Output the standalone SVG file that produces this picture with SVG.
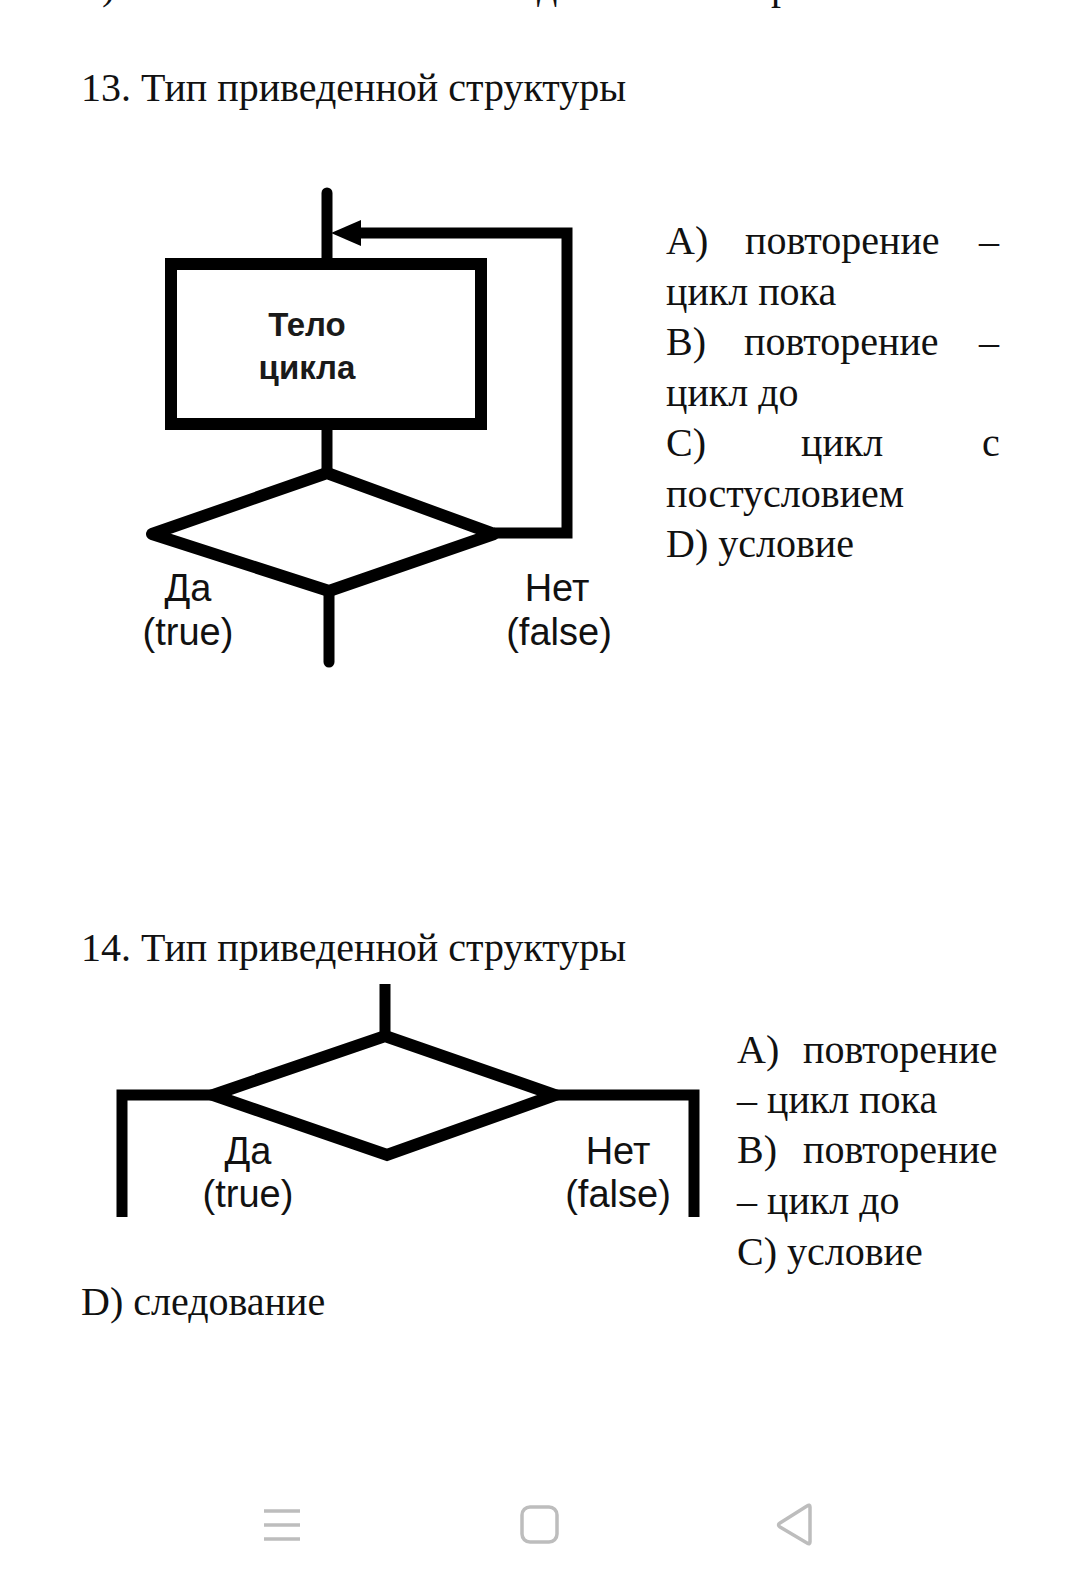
<svg xmlns="http://www.w3.org/2000/svg" width="1080" height="1592" viewBox="0 0 1080 1592">
<style>
.q{font-family:"Liberation Serif","Times New Roman",serif;font-size:40px;fill:#111}
.lab{font-family:"Liberation Sans",Arial,sans-serif;font-size:38px;fill:#111;text-anchor:middle}
.body{font-family:"Liberation Sans",Arial,sans-serif;font-size:33px;font-weight:bold;fill:#1a1a1a;text-anchor:middle}
.ln{fill:none;stroke:#000;stroke-width:11}
.shape{fill:#fff;stroke:#000;stroke-width:12}
.nav{fill:none;stroke:#bdbdbd;stroke-width:3.5}
</style>
<rect width="1080" height="1592" fill="#fff"/>
<g id="clipped-line">
<text class="q" x="102" y="-1">)</text>
<text class="q" x="537" y="-1">д</text>
<text class="q" x="771" y="-1">р</text>
</g>
<g id="q13-title"><text class="q" x="81" y="101">13. Тип приведенной структуры</text></g>
<g id="connectors13">
<line class="ln" x1="327" y1="193" x2="327" y2="264" stroke-linecap="round"/>
<line class="ln" x1="327" y1="428" x2="327" y2="472"/>
<line class="ln" x1="329" y1="590" x2="329" y2="662" stroke-linecap="round"/>
<polyline class="ln" points="494,533 567,533 567,233 356,233" stroke-width="12"/>
<path d="M331,233 L361,220 L361,246 Z" fill="#000"/>
</g>
<g id="body13">
<rect class="shape" x="171" y="264" width="310" height="160"/>
<text class="body" x="307" y="336">Тело</text>
<text class="body" x="307" y="379">цикла</text>
</g>
<g id="cond13">
<polygon class="shape" points="327,473 494,534 329,591 152,534" stroke-linejoin="round"/>
<text class="lab" x="188" y="601">Да</text>
<text class="lab" x="188" y="645">(true)</text>
<text class="lab" x="557" y="601">Нет</text>
<text class="lab" x="559" y="645">(false)</text>
</g>
<g id="q13-options">
<text class="q" x="666" y="254">A)</text>
<text class="q" x="745" y="254">повторение</text>
<text class="q" x="979" y="254">–</text>
<text class="q" x="666" y="304.5">цикл пока</text>
<text class="q" x="666" y="355">B)</text>
<text class="q" x="744" y="355">повторение</text>
<text class="q" x="979" y="355">–</text>
<text class="q" x="666" y="405.5">цикл до</text>
<text class="q" x="666" y="456">C)</text>
<text class="q" x="801" y="456">цикл</text>
<text class="q" x="982" y="456">с</text>
<text class="q" x="666" y="506.5">постусловием</text>
<text class="q" x="666" y="557">D) условие</text>
</g>
<g id="q14-title"><text class="q" x="81" y="961">14. Тип приведенной структуры</text></g>
<g id="connectors14">
<line class="ln" x1="385" y1="984" x2="385" y2="1034"/>
<polyline class="ln" points="214,1095 122,1095 122,1217"/>
<polyline class="ln" points="554,1095 694,1095 694,1217"/>
</g>
<g id="cond14">
<polygon class="shape" points="385,1036 555,1095 387,1155 213,1095"/>
<text class="lab" x="248" y="1164">Да</text>
<text class="lab" x="248" y="1207">(true)</text>
<text class="lab" x="618" y="1164">Нет</text>
<text class="lab" x="618" y="1207">(false)</text>
</g>
<g id="q14-options">
<text class="q" x="737" y="1063">A)</text>
<text class="q" x="803" y="1063">повторение</text>
<text class="q" x="737" y="1113">– цикл пока</text>
<text class="q" x="737" y="1163">B)</text>
<text class="q" x="803" y="1163">повторение</text>
<text class="q" x="737" y="1214">– цикл до</text>
<text class="q" x="737" y="1265">C) условие</text>
<text class="q" x="81" y="1315">D) следование</text>
</g>
<g id="navbar">
<line class="nav" x1="264" y1="1511" x2="300" y2="1511"/>
<line class="nav" x1="264" y1="1525" x2="300" y2="1525"/>
<line class="nav" x1="264" y1="1539" x2="300" y2="1539"/>
<rect class="nav" x="522" y="1507" width="35" height="35" rx="8"/>
<path class="nav" d="M810,1507 L810,1542 Q810,1545 807,1543 L780,1527 Q777,1525 780,1523 L807,1506 Q810,1504 810,1507 Z" stroke-linejoin="round"/>
</g>
</svg>
